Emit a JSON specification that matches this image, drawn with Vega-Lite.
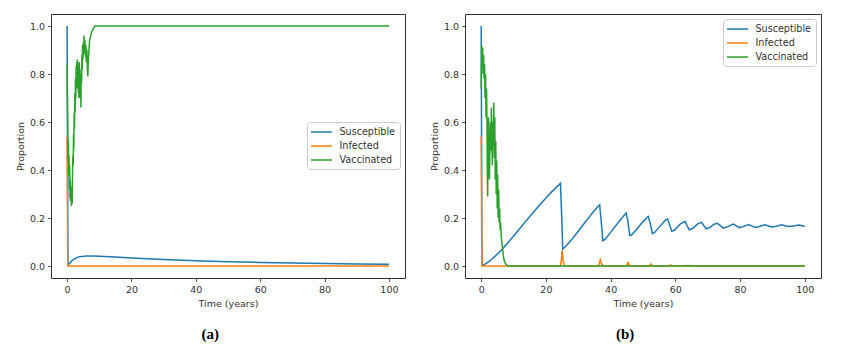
{
  "$schema": "https://vega.github.io/schema/vega-lite/v6.json",
  "background": "white",
  "padding": {"left": 14, "top": 13, "right": 5, "bottom": 5},
  "spacing": 22,
  "datasets": {
    "a": [
      {"series":"Susceptible","t":0,"v":1.0},{"series":"Susceptible","t":0.1,"v":0.6},{"series":"Susceptible","t":0.25,"v":0.01},{"series":"Susceptible","t":0.5,"v":0.006},{"series":"Susceptible","t":1,"v":0.015},{"series":"Susceptible","t":2,"v":0.028},{"series":"Susceptible","t":3,"v":0.035},{"series":"Susceptible","t":4,"v":0.039},{"series":"Susceptible","t":6,"v":0.042},{"series":"Susceptible","t":8,"v":0.042},{"series":"Susceptible","t":10,"v":0.041},{"series":"Susceptible","t":15,"v":0.037},{"series":"Susceptible","t":20,"v":0.033},{"series":"Susceptible","t":30,"v":0.027},{"series":"Susceptible","t":40,"v":0.022},{"series":"Susceptible","t":50,"v":0.018},{"series":"Susceptible","t":60,"v":0.015},{"series":"Susceptible","t":70,"v":0.012},{"series":"Susceptible","t":80,"v":0.01},{"series":"Susceptible","t":90,"v":0.008},{"series":"Susceptible","t":100,"v":0.007},
      {"series":"Infected","t":0,"v":0.54},{"series":"Infected","t":0.2,"v":0.0},{"series":"Infected","t":100,"v":0.0},
      {"series":"Vaccinated","t":0,"v":0.84},{"series":"Vaccinated","t":0.1,"v":0.7},{"series":"Vaccinated","t":0.2,"v":0.58},{"series":"Vaccinated","t":0.3,"v":0.45},{"series":"Vaccinated","t":0.4,"v":0.52},{"series":"Vaccinated","t":0.5,"v":0.38},{"series":"Vaccinated","t":0.6,"v":0.46},{"series":"Vaccinated","t":0.7,"v":0.32},{"series":"Vaccinated","t":0.8,"v":0.42},{"series":"Vaccinated","t":0.9,"v":0.28},{"series":"Vaccinated","t":1.0,"v":0.36},{"series":"Vaccinated","t":1.1,"v":0.27},{"series":"Vaccinated","t":1.2,"v":0.33},{"series":"Vaccinated","t":1.35,"v":0.25},{"series":"Vaccinated","t":1.5,"v":0.3},{"series":"Vaccinated","t":1.6,"v":0.26},{"series":"Vaccinated","t":1.7,"v":0.4},{"series":"Vaccinated","t":1.8,"v":0.46},{"series":"Vaccinated","t":1.9,"v":0.42},{"series":"Vaccinated","t":2.0,"v":0.55},{"series":"Vaccinated","t":2.1,"v":0.49},{"series":"Vaccinated","t":2.2,"v":0.64},{"series":"Vaccinated","t":2.3,"v":0.57},{"series":"Vaccinated","t":2.4,"v":0.72},{"series":"Vaccinated","t":2.5,"v":0.64},{"series":"Vaccinated","t":2.6,"v":0.78},{"series":"Vaccinated","t":2.7,"v":0.7},{"series":"Vaccinated","t":2.8,"v":0.83},{"series":"Vaccinated","t":2.9,"v":0.74},{"series":"Vaccinated","t":3.0,"v":0.85},{"series":"Vaccinated","t":3.1,"v":0.76},{"series":"Vaccinated","t":3.2,"v":0.86},{"series":"Vaccinated","t":3.3,"v":0.74},{"series":"Vaccinated","t":3.4,"v":0.84},{"series":"Vaccinated","t":3.5,"v":0.72},{"series":"Vaccinated","t":3.6,"v":0.83},{"series":"Vaccinated","t":3.7,"v":0.7},{"series":"Vaccinated","t":3.8,"v":0.85},{"series":"Vaccinated","t":3.9,"v":0.73},{"series":"Vaccinated","t":4.0,"v":0.82},{"series":"Vaccinated","t":4.1,"v":0.7},{"series":"Vaccinated","t":4.2,"v":0.78},{"series":"Vaccinated","t":4.3,"v":0.66},{"series":"Vaccinated","t":4.4,"v":0.8},{"series":"Vaccinated","t":4.5,"v":0.76},{"series":"Vaccinated","t":4.6,"v":0.88},{"series":"Vaccinated","t":4.7,"v":0.82},{"series":"Vaccinated","t":4.8,"v":0.92},{"series":"Vaccinated","t":4.9,"v":0.86},{"series":"Vaccinated","t":5.0,"v":0.93},{"series":"Vaccinated","t":5.1,"v":0.88},{"series":"Vaccinated","t":5.25,"v":0.96},{"series":"Vaccinated","t":5.4,"v":0.89},{"series":"Vaccinated","t":5.55,"v":0.94},{"series":"Vaccinated","t":5.7,"v":0.87},{"series":"Vaccinated","t":5.85,"v":0.92},{"series":"Vaccinated","t":6.0,"v":0.85},{"series":"Vaccinated","t":6.15,"v":0.9},{"series":"Vaccinated","t":6.3,"v":0.82},{"series":"Vaccinated","t":6.45,"v":0.79},{"series":"Vaccinated","t":6.6,"v":0.86},{"series":"Vaccinated","t":6.8,"v":0.9},{"series":"Vaccinated","t":7.0,"v":0.94},{"series":"Vaccinated","t":7.2,"v":0.95},{"series":"Vaccinated","t":7.5,"v":0.97},{"series":"Vaccinated","t":7.8,"v":0.98},{"series":"Vaccinated","t":8.2,"v":0.99},{"series":"Vaccinated","t":8.7,"v":1.0},{"series":"Vaccinated","t":100,"v":1.0}
    ],
    "b": [
      {"series":"Susceptible","t":0,"v":1.0},{"series":"Susceptible","t":0.1,"v":0.6},{"series":"Susceptible","t":0.25,"v":0.01},{"series":"Susceptible","t":0.5,"v":0.003},{"series":"Susceptible","t":1,"v":0.006},{"series":"Susceptible","t":2,"v":0.015},{"series":"Susceptible","t":3,"v":0.025},{"series":"Susceptible","t":4,"v":0.037},{"series":"Susceptible","t":5,"v":0.05},{"series":"Susceptible","t":6.5,"v":0.07},{"series":"Susceptible","t":8,"v":0.093},{"series":"Susceptible","t":10,"v":0.125},{"series":"Susceptible","t":12,"v":0.157},{"series":"Susceptible","t":14,"v":0.19},{"series":"Susceptible","t":16,"v":0.222},{"series":"Susceptible","t":18,"v":0.253},{"series":"Susceptible","t":20,"v":0.283},{"series":"Susceptible","t":22,"v":0.312},{"series":"Susceptible","t":24,"v":0.338},{"series":"Susceptible","t":24.5,"v":0.345},{"series":"Susceptible","t":24.9,"v":0.2},{"series":"Susceptible","t":25.2,"v":0.07},{"series":"Susceptible","t":26,"v":0.08},{"series":"Susceptible","t":28,"v":0.11},{"series":"Susceptible","t":30,"v":0.145},{"series":"Susceptible","t":32,"v":0.18},{"series":"Susceptible","t":34,"v":0.215},{"series":"Susceptible","t":36,"v":0.247},{"series":"Susceptible","t":36.6,"v":0.255},{"series":"Susceptible","t":37.0,"v":0.2},{"series":"Susceptible","t":37.6,"v":0.105},{"series":"Susceptible","t":38.2,"v":0.11},{"series":"Susceptible","t":40,"v":0.14},{"series":"Susceptible","t":42,"v":0.175},{"series":"Susceptible","t":44,"v":0.208},{"series":"Susceptible","t":44.8,"v":0.22},{"series":"Susceptible","t":45.3,"v":0.19},{"series":"Susceptible","t":45.9,"v":0.127},{"series":"Susceptible","t":46.5,"v":0.13},{"series":"Susceptible","t":48,"v":0.152},{"series":"Susceptible","t":50,"v":0.185},{"series":"Susceptible","t":51.6,"v":0.207},{"series":"Susceptible","t":52.2,"v":0.18},{"series":"Susceptible","t":52.9,"v":0.135},{"series":"Susceptible","t":53.6,"v":0.14},{"series":"Susceptible","t":55,"v":0.162},{"series":"Susceptible","t":57,"v":0.192},{"series":"Susceptible","t":57.6,"v":0.196},{"series":"Susceptible","t":58.2,"v":0.172},{"series":"Susceptible","t":58.9,"v":0.145},{"series":"Susceptible","t":59.8,"v":0.15},{"series":"Susceptible","t":61.5,"v":0.175},{"series":"Susceptible","t":63,"v":0.186},{"series":"Susceptible","t":63.6,"v":0.168},{"series":"Susceptible","t":64.3,"v":0.151},{"series":"Susceptible","t":65.3,"v":0.156},{"series":"Susceptible","t":67,"v":0.176},{"series":"Susceptible","t":68.1,"v":0.182},{"series":"Susceptible","t":68.8,"v":0.168},{"series":"Susceptible","t":69.5,"v":0.155},{"series":"Susceptible","t":70.6,"v":0.16},{"series":"Susceptible","t":72,"v":0.174},{"series":"Susceptible","t":73,"v":0.178},{"series":"Susceptible","t":73.9,"v":0.168},{"series":"Susceptible","t":74.8,"v":0.158},{"series":"Susceptible","t":76,"v":0.163},{"series":"Susceptible","t":77.9,"v":0.175},{"series":"Susceptible","t":78.9,"v":0.167},{"series":"Susceptible","t":79.8,"v":0.16},{"series":"Susceptible","t":81,"v":0.164},{"series":"Susceptible","t":82.6,"v":0.173},{"series":"Susceptible","t":83.6,"v":0.167},{"series":"Susceptible","t":84.6,"v":0.161},{"series":"Susceptible","t":86,"v":0.165},{"series":"Susceptible","t":87.7,"v":0.172},{"series":"Susceptible","t":88.8,"v":0.167},{"series":"Susceptible","t":89.8,"v":0.163},{"series":"Susceptible","t":91.2,"v":0.166},{"series":"Susceptible","t":92.9,"v":0.172},{"series":"Susceptible","t":93.9,"v":0.168},{"series":"Susceptible","t":94.9,"v":0.165},{"series":"Susceptible","t":96.5,"v":0.167},{"series":"Susceptible","t":98.2,"v":0.171},{"series":"Susceptible","t":99.2,"v":0.168},{"series":"Susceptible","t":100,"v":0.165},
      {"series":"Infected","t":0,"v":0.54},{"series":"Infected","t":0.2,"v":0.0},{"series":"Infected","t":24.5,"v":0.0},{"series":"Infected","t":24.8,"v":0.03},{"series":"Infected","t":25.0,"v":0.065},{"series":"Infected","t":25.3,"v":0.02},{"series":"Infected","t":25.8,"v":0.0},{"series":"Infected","t":36.3,"v":0.0},{"series":"Infected","t":36.8,"v":0.025},{"series":"Infected","t":37.2,"v":0.008},{"series":"Infected","t":37.7,"v":0.0},{"series":"Infected","t":44.9,"v":0.0},{"series":"Infected","t":45.4,"v":0.015},{"series":"Infected","t":45.9,"v":0.0},{"series":"Infected","t":51.9,"v":0.0},{"series":"Infected","t":52.4,"v":0.008},{"series":"Infected","t":53.0,"v":0.0},{"series":"Infected","t":57.9,"v":0.0},{"series":"Infected","t":58.4,"v":0.005},{"series":"Infected","t":59.1,"v":0.0},{"series":"Infected","t":63.4,"v":0.0},{"series":"Infected","t":63.9,"v":0.003},{"series":"Infected","t":64.6,"v":0.0},{"series":"Infected","t":100,"v":0.0},
      {"series":"Vaccinated","t":0,"v":0.74},{"series":"Vaccinated","t":0.15,"v":0.92},{"series":"Vaccinated","t":0.3,"v":0.86},{"series":"Vaccinated","t":0.45,"v":0.91},{"series":"Vaccinated","t":0.6,"v":0.8},{"series":"Vaccinated","t":0.75,"v":0.88},{"series":"Vaccinated","t":0.9,"v":0.78},{"series":"Vaccinated","t":1.05,"v":0.84},{"series":"Vaccinated","t":1.2,"v":0.7},{"series":"Vaccinated","t":1.35,"v":0.8},{"series":"Vaccinated","t":1.5,"v":0.62},{"series":"Vaccinated","t":1.65,"v":0.74},{"series":"Vaccinated","t":1.8,"v":0.59},{"series":"Vaccinated","t":1.9,"v":0.38},{"series":"Vaccinated","t":2.0,"v":0.29},{"series":"Vaccinated","t":2.1,"v":0.5},{"series":"Vaccinated","t":2.25,"v":0.62},{"series":"Vaccinated","t":2.4,"v":0.44},{"series":"Vaccinated","t":2.55,"v":0.36},{"series":"Vaccinated","t":2.7,"v":0.5},{"series":"Vaccinated","t":2.85,"v":0.6},{"series":"Vaccinated","t":3.0,"v":0.48},{"series":"Vaccinated","t":3.15,"v":0.66},{"series":"Vaccinated","t":3.3,"v":0.52},{"series":"Vaccinated","t":3.45,"v":0.42},{"series":"Vaccinated","t":3.6,"v":0.6},{"series":"Vaccinated","t":3.75,"v":0.5},{"series":"Vaccinated","t":3.9,"v":0.68},{"series":"Vaccinated","t":4.05,"v":0.45},{"series":"Vaccinated","t":4.2,"v":0.62},{"series":"Vaccinated","t":4.35,"v":0.36},{"series":"Vaccinated","t":4.5,"v":0.52},{"series":"Vaccinated","t":4.65,"v":0.3},{"series":"Vaccinated","t":4.8,"v":0.44},{"series":"Vaccinated","t":4.95,"v":0.24},{"series":"Vaccinated","t":5.1,"v":0.38},{"series":"Vaccinated","t":5.25,"v":0.2},{"series":"Vaccinated","t":5.4,"v":0.32},{"series":"Vaccinated","t":5.55,"v":0.18},{"series":"Vaccinated","t":5.7,"v":0.24},{"series":"Vaccinated","t":5.85,"v":0.15},{"series":"Vaccinated","t":6.0,"v":0.18},{"series":"Vaccinated","t":6.2,"v":0.12},{"series":"Vaccinated","t":6.4,"v":0.1},{"series":"Vaccinated","t":6.6,"v":0.07},{"series":"Vaccinated","t":6.8,"v":0.05},{"series":"Vaccinated","t":7.0,"v":0.03},{"series":"Vaccinated","t":7.3,"v":0.015},{"series":"Vaccinated","t":7.7,"v":0.006},{"series":"Vaccinated","t":8.2,"v":0.001},{"series":"Vaccinated","t":9,"v":0.0},{"series":"Vaccinated","t":100,"v":0.0}
    ]
  },
  "hconcat": [
    {
      "width": 354, "height": 264,
      "data": {"name": "a"},
      "mark": {"type": "line", "strokeWidth": 1.5},
      "encoding": {
        "x": {"field": "t", "type": "quantitative", "scale": {"domain": [-5, 105], "nice": false, "zero": false}, "axis": {"values": [0, 20, 40, 60, 80, 100], "title": "Time (years)"}},
        "y": {"field": "v", "type": "quantitative", "scale": {"domain": [-0.05, 1.05], "nice": false, "zero": false}, "axis": {"values": [0, 0.2, 0.4, 0.6, 0.8, 1], "format": ".1f", "title": "Proportion"}},
        "color": {"field": "series", "type": "nominal", "scale": {"domain": ["Susceptible", "Infected", "Vaccinated"], "range": ["#1f77b4", "#ff7f0e", "#2ca02c"]}, "legend": {"orient": "none", "legendX": 256, "legendY": 108, "title": null, "symbolType": "M-2,0H2", "symbolSize": 110, "symbolStrokeWidth": 1.5, "symbolOffset": 4.5, "labelOffset": 12}}
      },
      "title": {"text": "(a)", "orient": "bottom", "anchor": "middle", "frame": "bounds", "font": "Liberation Serif", "fontSize": 15, "fontWeight": "bold", "color": "#000", "offset": 19}
    },
    {
      "width": 356, "height": 264,
      "data": {"name": "b"},
      "mark": {"type": "line", "strokeWidth": 1.5},
      "encoding": {
        "x": {"field": "t", "type": "quantitative", "scale": {"domain": [-5, 105], "nice": false, "zero": false}, "axis": {"values": [0, 20, 40, 60, 80, 100], "title": "Time (years)"}},
        "y": {"field": "v", "type": "quantitative", "scale": {"domain": [-0.05, 1.05], "nice": false, "zero": false}, "axis": {"values": [0, 0.2, 0.4, 0.6, 0.8, 1], "format": ".1f", "title": "Proportion"}},
        "color": {"field": "series", "type": "nominal", "scale": {"domain": ["Susceptible", "Infected", "Vaccinated"], "range": ["#1f77b4", "#ff7f0e", "#2ca02c"]}, "legend": {"orient": "none", "legendX": 258, "legendY": 5, "title": null, "symbolType": "M-2,0H2", "symbolSize": 110, "symbolStrokeWidth": 1.5, "symbolOffset": 4.5, "labelOffset": 12}}
      },
      "title": {"text": "(b)", "orient": "bottom", "anchor": "middle", "frame": "bounds", "font": "Liberation Serif", "fontSize": 15, "fontWeight": "bold", "color": "#000", "offset": 19}
    }
  ],
  "resolve": {"scale": {"color": "independent", "x": "independent", "y": "independent"}, "legend": {"color": "independent"}},
  "config": {
    "view": {"stroke": "#333", "strokeWidth": 1},
    "axis": {"domain": false, "grid": false, "ticks": true, "tickSize": 3.5, "tickColor": "#333", "tickWidth": 0.8, "labelFont": "DejaVu Sans", "labelFontSize": 9.5, "labelColor": "#333", "labelPadding": 3, "titleFont": "DejaVu Sans", "titleFontSize": 9.5, "titleFontWeight": "normal", "titleColor": "#333", "titlePadding": 4},
    "legend": {"strokeColor": "#ccc", "fillColor": "white", "cornerRadius": 3, "padding": 4, "rowPadding": 3, "labelFont": "DejaVu Sans", "labelFontSize": 9.6, "labelColor": "#333"}
  }
}
